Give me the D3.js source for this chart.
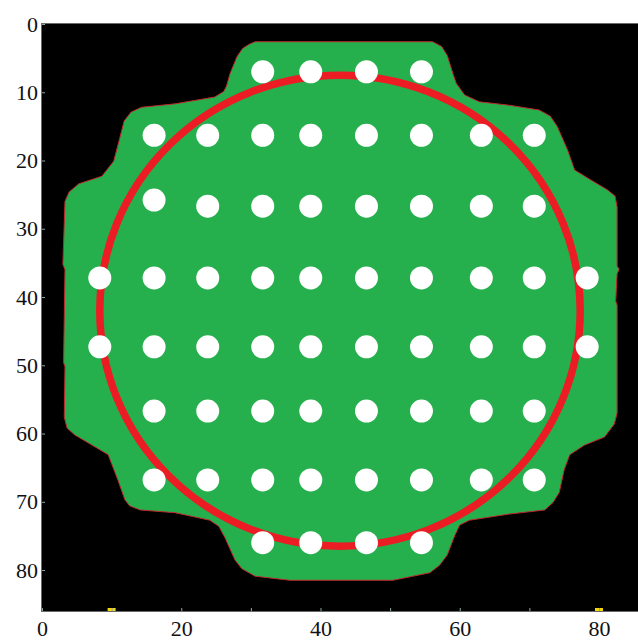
<!DOCTYPE html>
<html>
<head>
<meta charset="utf-8">
<script src="https://cdn.jsdelivr.net/npm/d3@7"></script>
<style>
  body { margin: 0; background: #fff; }
  svg { display: block; }
  .tick text { font-family: "Liberation Serif", "Times New Roman", serif; font-size: 22px; fill: #111; }
</style>
</head>
<body>
<svg id="chart" width="638" height="641"></svg>
<script>
// ticks
var xTicks = [0, 10, 20, 30, 40, 50, 60, 70, 80];
var yTicks = [0, 10, 20, 30, 40, 50, 60, 70, 80];

// green region outline (image units)
var outline = [
  [30.6, 2.6], [56.1, 2.6], [57.4, 3.3], [58.2, 4.6], [59.0, 7.2], [59.5, 8.7], [60.7, 10.4], [62.8, 11.4],
  [67.1, 11.9], [71.4, 12.6], [73.0, 13.5], [74.0, 15.0], [75.5, 18.5], [76.5, 21.4], [78.9, 22.9],
  [81.2, 24.3], [82.3, 25.2], [82.6, 26.8], [82.6, 35.5], [82.9, 35.9], [82.6, 36.6], [82.4, 40.6],
  [82.6, 41.2], [82.6, 57.0], [82.2, 58.6], [80.8, 60.5], [77.9, 61.7], [75.8, 63.1], [75.0, 65.3],
  [74.3, 68.6], [73.4, 70.1], [72.2, 71.2], [67.1, 71.8], [61.4, 72.7], [60.0, 73.4], [59.3, 74.9],
  [58.2, 77.8], [57.1, 79.3], [55.7, 80.4], [50.4, 81.5], [35.6, 81.5], [30.6, 80.9], [28.7, 79.8], [27.7, 78.5],
  [26.3, 75.3], [25.4, 73.6], [24.1, 72.7], [19.1, 71.6], [14.1, 71.2], [12.6, 70.6], [11.9, 69.7], [10.9, 66.8],
  [9.5, 63.1], [7.2, 61.7], [4.7, 60.2], [3.6, 59.2], [3.2, 57.6], [3.3, 50.2], [3.1, 49.6],
  [3.3, 36.0], [3.0, 35.2], [3.3, 26.0], [3.9, 24.6], [5.3, 23.4], [8.6, 22.3], [10.3, 20.1],
  [11.2, 16.6], [11.8, 14.2], [12.8, 12.9], [14.3, 12.2], [19.1, 11.7], [24.8, 10.7], [26.1, 9.9], [26.5, 9.1],
  [27.0, 7.3], [28.0, 4.8], [28.8, 3.6], [29.7, 3.0]
];

// red ring
var ringCenter = [42.8, 42.0];
var ringRadius = 34.5;

// white dots
var dots = [
  [31.7, 7.0], [38.6, 7.0], [46.6, 7.0], [54.5, 7.0],
  [16.1, 16.3], [23.8, 16.3], [31.7, 16.3], [38.6, 16.3], [46.6, 16.3], [54.5, 16.3], [63.1, 16.3], [70.7, 16.3],
  [16.1, 25.8], [23.8, 26.7], [31.7, 26.7], [38.6, 26.7], [46.6, 26.7], [54.5, 26.7], [63.1, 26.7], [70.7, 26.7],
  [8.3, 37.2], [16.1, 37.2], [23.8, 37.2], [31.7, 37.2], [38.6, 37.2], [46.6, 37.2], [54.5, 37.2], [63.1, 37.2], [70.7, 37.2], [78.3, 37.2],
  [8.3, 47.3], [16.1, 47.3], [23.8, 47.3], [31.7, 47.3], [38.6, 47.3], [46.6, 47.3], [54.5, 47.3], [63.1, 47.3], [70.7, 47.3], [78.3, 47.3],
  [16.1, 56.7], [23.8, 56.7], [31.7, 56.7], [38.6, 56.7], [46.6, 56.7], [54.5, 56.7], [63.1, 56.7], [70.7, 56.7],
  [16.1, 66.8], [23.8, 66.8], [31.7, 66.8], [38.6, 66.8], [46.6, 66.8], [54.5, 66.8], [63.1, 66.8], [70.7, 66.8],
  [31.7, 76.0], [38.6, 76.0], [46.6, 76.0], [54.5, 76.0]
];
var dotRadius = 1.65;

// stray yellow pixels on the bottom row
var yellowPix = [10, 80];

var svg = d3.select("#chart");
var x = d3.scaleLinear().domain([0, 85.6]).range([42, 638]);
var y = d3.scaleLinear().domain([0, 86]).range([24, 611]);

svg.append("rect")
  .attr("x", x(0)).attr("y", y(0))
  .attr("width", x(85.6) - x(0)).attr("height", y(86) - y(0))
  .style("fill", "#000");

svg.append("path")
  .datum(outline)
  .attr("d", d3.line().x(d => x(d[0])).y(d => y(d[1])).curve(d3.curveLinearClosed))
  .style("fill", "#25b04d")
  .style("stroke", "#c0262b")
  .style("stroke-width", 1);

svg.append("ellipse")
  .attr("cx", x(ringCenter[0])).attr("cy", y(ringCenter[1]))
  .attr("rx", x(ringRadius) - x(0)).attr("ry", y(ringRadius) - y(0))
  .style("fill", "none")
  .style("stroke", "#ec1c24")
  .style("stroke-width", 7.5);

svg.selectAll(".dot")
  .data(dots)
  .enter().append("circle")
  .attr("class", "dot")
  .attr("cx", d => x(d[0]))
  .attr("cy", d => y(d[1]))
  .attr("r", x(dotRadius) - x(0))
  .style("fill", "#fff");

svg.selectAll(".ypix")
  .data(yellowPix)
  .enter().append("rect")
  .attr("class", "ypix")
  .attr("x", d => x(d) - 4).attr("y", 608)
  .attr("width", 8).attr("height", 3)
  .style("fill", "#f2d60c");

// frame
svg.append("rect")
  .attr("x", x(0) - 0.5).attr("y", y(0) - 0.5)
  .attr("width", x(85.6) - x(0) + 1).attr("height", y(86) - y(0) + 1)
  .style("fill", "none")
  .style("stroke", "#6a6a6a")
  .style("stroke-width", 1);

var yAxis = svg.append("g")
  .attr("transform", "translate(" + x(0) + ",0)")
  .call(d3.axisLeft(y).tickValues(yTicks).tickSizeInner(-3).tickSizeOuter(0).tickPadding(4));
var xAxis = svg.append("g")
  .attr("transform", "translate(0," + y(86) + ")")
  .call(d3.axisBottom(x).tickValues(xTicks).tickSizeInner(-3).tickSizeOuter(0).tickPadding(9)
    .tickFormat(d => d % 20 === 0 ? d : ""));

[xAxis, yAxis].forEach(function(g) {
  g.attr("font-family", null).attr("font-size", null);
  g.select(".domain").remove();
  g.selectAll(".tick line").style("stroke", "#8aa8ac");
});
</script>
</body>
</html>
